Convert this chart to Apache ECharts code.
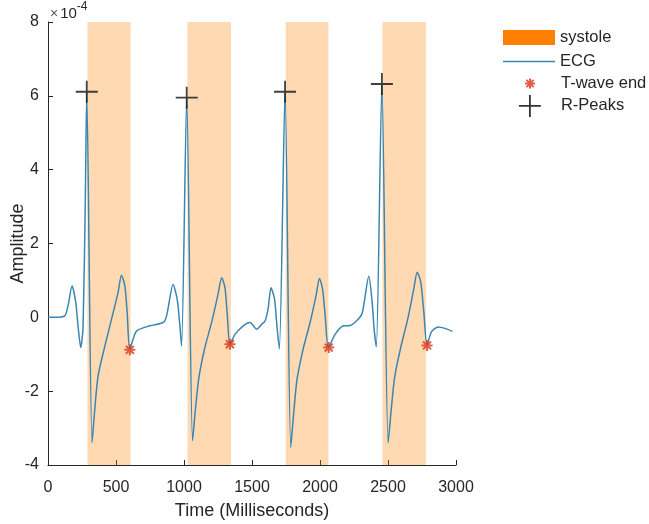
<!DOCTYPE html>
<html>
<head>
<meta charset="utf-8">
<script src="https://cdn.jsdelivr.net/npm/echarts@6/dist/echarts.min.js"></script>
<style>
html,body{margin:0;padding:0;background:#fff;}
#chart{width:649px;height:524px;}
</style>
</head>
<body>
<div id="chart"></div>
<script>
// ---- data (amplitude in units of 1e-4) ----
var xTicks = [0, 500, 1000, 1500, 2000, 2500, 3000];
var yTicks = [-4, -2, 0, 2, 4, 6, 8];

// systole intervals [start, end] in ms
var systoleStart = [290, 1026, 1748, 2459];
var systoleEnd   = [607, 1345, 2062, 2779];

// ECG trace
var ecgTime = [0,49,123,147,177,204,221,241,258,275,285,324,344,368,418,467,515,540,565,582,602,651,749,847,872,
  920,950,970,982,1020,1063,1084,1110,1154,1205,1250,1277,1301,1318,1338,1375,1436,1485,1535,1571,1596,
  1618,1640,1666,1684,1701,1743,1785,1806,1831,1876,1927,1971,1996,2019,2038,2062,2111,2172,2222,2273,2310,
  2359,2384,2398,2414,2455,2501,2524,2549,2594,2645,2689,2715,2741,2763,2787,2820,2870,2919,2974];
var ecgAmp = [0,0,0.04,0.31,0.85,0.41,-0.24,-0.82,-0.24,3.38,6.11,-3.39,-2.49,-1.59,-0.78,-0.05,0.67,1.14,0.85,0.13,-0.86,-0.37,-0.23,-0.14,0.04,
  0.89,0.49,-0.24,-0.78,5.95,-3.34,-2.49,-1.62,-0.81,-0.11,0.62,1.07,0.81,0.08,-0.73,-0.46,-0.23,-0.14,-0.32,-0.19,-0.1,
  0.22,0.8,0.49,-0.27,-0.86,6.11,-3.52,-2.62,-1.68,-0.86,-0.14,0.59,1.05,0.76,0.05,-0.82,-0.46,-0.23,-0.22,-0.08,0.11,
  1.11,0.38,-0.32,-0.8,6.32,-3.4,-2.49,-1.62,-0.81,-0.05,0.76,1.22,0.95,0.16,-0.76,-0.39,-0.26,-0.3,-0.38];

// T-wave end markers
var tEndTime = [602, 1338, 2064, 2787];
var tEndAmp  = [-0.88, -0.73, -0.82, -0.76];

// R-peak markers
var rPeakTime = [285, 1020, 1743, 2455];
var rPeakAmp  = [6.11, 5.95, 6.11, 6.32];

// ---- build ----
function zip(a, b) { return a.map(function (v, i) { return [v, b[i]]; }); }
var FONT = '"Liberation Sans", Arial, Helvetica, sans-serif';
var TXT = '#262626';
var ECG_COLOR = '#3a86b0';
var STAR_COLOR = '#DC3418';
var plusPath = 'path://M-11,0L11,0M0,-11L0,11';
var starPath = 'path://M-5,0L5,0M0,-5L0,5M-3.6,-3.6L3.6,3.6M-3.6,3.6L3.6,-3.6';
// legend icons padded to the full 52px item width so text lines up
var plusLegend = 'path://M-26,-11M26,11M-11,0L11,0M0,-11L0,11';
var starLegend = 'path://M-26,-5.5M26,5.5M-5,0L5,0M0,-5L0,5M-3.6,-3.6L3.6,3.6M-3.6,3.6L3.6,-3.6';

function oneLegend(name, top, h, icon, itemStyle) {
  return {
    orient: 'vertical', left: 503, top: top, padding: 0,
    itemWidth: 52, itemHeight: h, itemGap: 0,
    textStyle: {fontSize: 16.5, color: TXT, fontFamily: FONT},
    data: [{name: name, icon: icon, itemStyle: itemStyle}]
  };
}

var chart = echarts.init(document.getElementById('chart'), null, {renderer: 'canvas'});
chart.setOption({
  animation: false,
  backgroundColor: '#fff',
  textStyle: {fontFamily: FONT},
  grid: {left: 48, right: 193, top: 22, bottom: 59, containLabel: false, outerBoundsMode: 'none'},
  graphic: [{
    type: 'text', left: 50, top: 1,
    style: {
      text: '{a|×}{b|10}{c|-4}',
      rich: {
        a: {fontSize: 14, fill: '#555', fontFamily: FONT, padding: [6, 2, 0, 0]},
        b: {fontSize: 15, fill: TXT, fontFamily: FONT, padding: [6, 0, 0, 0]},
        c: {fontSize: 12, fill: TXT, fontFamily: FONT, padding: [0, 0, 8, 0]}
      }
    }
  }],
  legend: [
    oneLegend('systole', 29, 15, 'rect', {color: '#FF8000', borderWidth: 0}),
    oneLegend('ECG', 53, 16, 'path://M0,0H52V1.5H0Z', {color: ECG_COLOR, borderWidth: 0}),
    oneLegend('T-wave end', 75, 11, starLegend, {color: STAR_COLOR, borderColor: STAR_COLOR, borderWidth: 2}),
    oneLegend('R-Peaks', 94, 22, plusLegend, {color: '#000', borderColor: '#000', borderWidth: 1.8})
  ],
  xAxis: {
    type: 'value', min: 0, max: 3000, interval: 500,
    name: 'Time (Milliseconds)', nameLocation: 'middle', nameGap: 37, nameMoveOverlap: false,
    nameTextStyle: {fontSize: 18, color: TXT, fontFamily: FONT},
    axisLine: {show: true, onZero: false, lineStyle: {color: TXT, width: 1}},
    axisTick: {show: true, inside: true, length: 5, lineStyle: {color: TXT}},
    axisLabel: {fontSize: 16, color: TXT, margin: 15, fontFamily: FONT, formatter: function (v) { return String(v); }},
    splitLine: {show: false}
  },
  yAxis: {
    type: 'value', min: -4, max: 8, interval: 2,
    name: 'Amplitude', nameLocation: 'middle', nameGap: 21, nameMoveOverlap: false,
    nameTextStyle: {fontSize: 18, color: TXT, fontFamily: FONT},
    axisLine: {show: true, onZero: false, lineStyle: {color: TXT, width: 1}},
    axisTick: {show: true, inside: true, length: 5, lineStyle: {color: TXT}},
    axisLabel: {fontSize: 16, color: TXT, margin: 9, fontFamily: FONT},
    splitLine: {show: false}
  },
  series: [
    {
      name: 'systole', type: 'line', data: [], z: 1,
      itemStyle: {color: '#FF8000'}, lineStyle: {color: '#FF8000'},
      markArea: {
        silent: true,
        itemStyle: {color: 'rgba(255,128,0,0.3)'},
        data: systoleStart.map(function (s, i) { return [{xAxis: s}, {xAxis: systoleEnd[i]}]; })
      }
    },
    {
      name: 'ECG', type: 'line', z: 2, data: zip(ecgTime, ecgAmp),
      symbol: 'none', showSymbol: false, smooth: 0.25,
      lineStyle: {color: ECG_COLOR, width: 1.5},
      itemStyle: {color: ECG_COLOR}
    },
    {
      name: 'T-wave end', type: 'scatter', z: 3, data: zip(tEndTime, tEndAmp),
      symbol: starPath, symbolSize: 11,
      itemStyle: {color: STAR_COLOR, borderColor: STAR_COLOR, borderWidth: 2}
    },
    {
      name: 'R-Peaks', type: 'scatter', z: 4, data: zip(rPeakTime, rPeakAmp),
      symbol: plusPath, symbolSize: 22,
      itemStyle: {color: '#000', borderColor: '#111', borderWidth: 1.8}
    }
  ]
});
</script>
</body>
</html>
